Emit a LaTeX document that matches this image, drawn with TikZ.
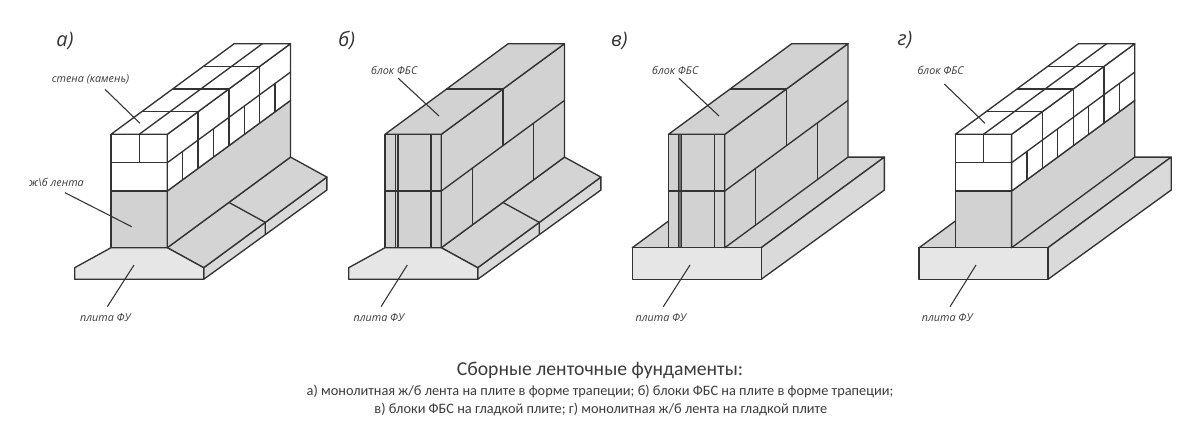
\documentclass[tikz,border=0pt]{standalone}
\usepackage{fontspec}
\setmainfont{Open Sans}
\newfontfamily\capfont{Carlito}
\definecolor{ink}{HTML}{333333}
\definecolor{txt}{HTML}{3C3C3C}
\definecolor{wallgray}{HTML}{D2D2D2}
\definecolor{shelfgray}{HTML}{D4D4D4}
\definecolor{slabfront}{HTML}{E6E6E6}
\definecolor{slabside}{HTML}{DADADA}
\definecolor{bandgray}{HTML}{707070}
\tikzset{
  edge/.style={draw=ink,line width=1pt,line join=round},
  thinedge/.style={draw=ink,line width=0.9pt},
  leader/.style={draw=ink,line width=0.8pt},
  part/.style={inner sep=0pt,text=txt,font=\itshape\fontsize{8.1pt}{9pt}\selectfont},
  letter/.style={inner sep=0pt,text=ink,font=\itshape\fontsize{15pt}{17pt}\selectfont},
  captitle/.style={inner sep=0pt,text=txt,font=\capfont\fontsize{14.75pt}{16pt}\selectfont},
  capline/.style={inner sep=0pt,text=txt,font=\capfont\fontsize{10.75pt}{12pt}\selectfont}
}
% geometry of one unit, in pixels of panel a
\newcommand\trapslab{%
  \path[edge,fill=slabside] (203.7,267.7) -- (326.9,177.1) -- (326.9,190) -- (203.7,279.3) -- cycle;
  \path[edge,fill=shelfgray] (167.3,247.7) -- (290.5,157.1) -- (326.9,177.1) -- (203.7,267.7) -- cycle;
  \path[edge] (228.9,202.4) -- (265.3,222.4) -- (265.3,233.8);
  \path[edge,fill=slabfront] (111,247.7) -- (167.3,247.7) -- (203.7,267.7) -- (203.7,279.3) -- (74.7,279.3) -- (74.7,267.7) -- cycle;
}
\newcommand\flatslab{%
  \path[edge,fill=shelfgray] (74.8,247.7) -- (198,157.1) -- (326.9,157.1) -- (203.7,247.7) -- cycle;
  \path[edge,fill=slabside] (203.7,247.7) -- (326.9,157.1) -- (326.9,190) -- (203.7,279.3) -- cycle;
  \path[edge,fill=slabfront] (74.8,247.7) rectangle (203.7,279.3);
}
\newcommand\brickwall{%
  \path[edge,fill=wallgray] (111,191) rectangle (167.3,247.7);
  \path[edge,fill=wallgray] (167.3,191) -- (290.5,100.4) -- (290.5,157.1) -- (167.3,247.7) -- cycle;
  \path[edge,fill=white] (111,134.3) rectangle (167.3,191);
  \path[edge,fill=white] (167.3,134.3) -- (290.5,43.7) -- (290.5,100.4) -- (167.3,191) -- cycle;
  \path[edge,fill=white] (111,134.3) -- (234.2,43.7) -- (290.5,43.7) -- (167.3,134.3) -- cycle;
  \path[edge] (111,162.7) -- (167.3,162.7);
  \path[edge] (139.2,134.3) -- (139.2,162.7);
  \path[edge] (139.2,134.3) -- (262.4,43.7);
  \path[edge] (167.3,162.7) -- (290.5,72.1);
  \foreach \t in {.25,.5,.75}{
    \path[edge] ({111+\t*123.2},{134.3-\t*90.6}) -- ({167.3+\t*123.2},{134.3-\t*90.6}) -- ({167.3+\t*123.2},{162.7-\t*90.6});
  }
  \foreach \t in {.125,.25,.375,.5,.625,.75,.875}{
    \path[edge] ({167.3+\t*123.2},{162.7-\t*90.6}) -- ({167.3+\t*123.2},{191-\t*90.6});
  }
}
\newcommand\blockwall[1]{%
  \path[edge,fill=wallgray] (111,134.3) rectangle (167.3,247.7);
  \path[edge,fill=wallgray] (167.3,134.3) -- (290.5,43.7) -- (290.5,157.1) -- (167.3,247.7) -- cycle;
  \path[edge,fill=wallgray] (111,134.3) -- (234.2,43.7) -- (290.5,43.7) -- (167.3,134.3) -- cycle;
  \path[thinedge,fill=#1] (121.2,134.3) rectangle (124,247.7);
  \path[thinedge] (157,134.3) -- (157,247.7);
  \path[edge] (111,191) -- (167.3,191);
  \path[edge] (167.3,191) -- (290.5,100.4);
  \path[edge] (172.4,88.95) -- (228.9,88.95) -- (228.9,145.65);
  \path[thinedge] (198.1,168.35) -- (198.1,225);
  \path[thinedge] (259.7,123) -- (259.7,179.7);
}
\begin{document}
\begin{tikzpicture}[x=0.75pt,y=-0.75pt]
\path[use as bounding box,fill=white] (0,0) rectangle (1200,430);
% panel a
\trapslab
\brickwall
\node[letter] (la) at (65,41) {а)};
\node[part] (a1) at (90.5,79) {стена (камень)};
\node[part] (a2) at (56.5,182) {ж\textbackslash б лента};
\node[part] (a3) at (105.5,317.7) {плита ФУ};
\coordinate (a1s) at (105,89.3); \coordinate (a1e) at (140,123.3);
\coordinate (a2s) at (65,192.7); \coordinate (a2e) at (131.7,226.7);
\coordinate (a3s) at (107.3,306.7); \coordinate (a3e) at (134,265);
\draw[leader] (a1s) -- (a1e);
\draw[leader] (a2s) -- (a2e);
\draw[leader] (a3s) -- (a3e);
% panel b
\begin{scope}[shift={(274,0)}]
\trapslab
\blockwall{wallgray}
\end{scope}
\node[letter] (lb) at (346.7,40) {б)};
\node[part] (b1) at (394.3,70) {блок ФБС};
\node[part] (b3) at (379,317.7) {плита ФУ};
\coordinate (b1s) at (398.3,78.3); \coordinate (b1e) at (439,116);
\coordinate (b3s) at (381,306.7); \coordinate (b3e) at (407.3,265);
\draw[leader] (b1s) -- (b1e);
\draw[leader] (b3s) -- (b3e);
% panel c
\begin{scope}[shift={(557.5,0)}]
\flatslab
\blockwall{bandgray}
\end{scope}
\node[letter] (lc) at (619.3,41) {в)};
\node[part] (c1) at (675.3,70) {блок ФБС};
\node[part] (c3) at (661,317.7) {плита ФУ};
\coordinate (c1s) at (679,78.3); \coordinate (c1e) at (719,116);
\coordinate (c3s) at (663.3,306.7); \coordinate (c3e) at (690,265);
\draw[leader] (c1s) -- (c1e);
\draw[leader] (c3s) -- (c3e);
% panel d
\begin{scope}[shift={(844.3,0)}]
\flatslab
\brickwall
\end{scope}
\node[letter] (ld) at (905,40) {г)};
\node[part] (d1) at (940.7,70) {блок ФБС};
\node[part] (d3) at (947.3,317.7) {плита ФУ};
\coordinate (d1s) at (944.3,84); \coordinate (d1e) at (985,123.3);
\coordinate (d3s) at (950,306.7); \coordinate (d3e) at (976,265);
\draw[leader] (d1s) -- (d1e);
\draw[leader] (d3s) -- (d3e);
% caption
\node[captitle] (t0) at (600,370) {Сборные ленточные фундаменты:};
\node[capline] (t1) at (600,391.5) {а) монолитная ж/б лента на плите в форме трапеции; б) блоки ФБС на плите в форме трапеции;};
\node[capline] (t2) at (600.8,409) {в) блоки ФБС на гладкой плите; г) монолитная ж/б лента на гладкой плите};
\end{tikzpicture}
\end{document}
